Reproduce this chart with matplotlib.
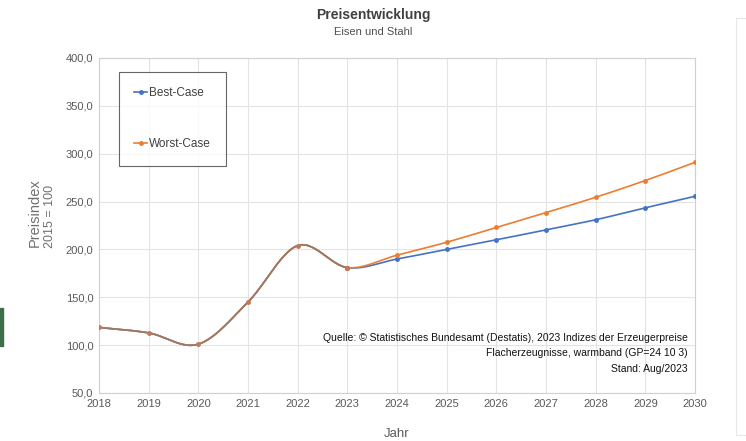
import numpy as np
import matplotlib
matplotlib.use("Agg")
import matplotlib.pyplot as plt
from matplotlib.patches import Rectangle
from matplotlib.lines import Line2D
from matplotlib.ticker import FuncFormatter, MultipleLocator

years = [2018, 2019, 2020, 2021, 2022, 2023, 2024, 2025, 2026, 2027, 2028, 2029, 2030]
best_case = [118.5, 112.8, 101.0, 145.0, 204.0, 181.0, 190.0, 200.0, 210.0, 220.5, 231.0, 243.5, 255.5]
worst_case = [118.5, 112.8, 101.0, 145.0, 204.0, 181.0, 194.0, 207.5, 223.0, 238.5, 254.5, 272.0, 291.0]
series_names = ["Best-Case", "Worst-Case"]
title = "Preisentwicklung"
subtitle = "Eisen und Stahl"
ylabel_main = "Preisindex"
ylabel_sub = "2015 = 100"
source_lines = ["Quelle: \u00a9 Statistisches Bundesamt (Destatis), 2023 Indizes der Erzeugerpreise",
                "Flacherzeugnisse, warmband (GP=24 10 3)",
                "Stand: Aug/2023"]

font = ["Liberation Sans Narrow", "Liberation Sans", "DejaVu Sans"]
plt.rcParams['font.family'] = font

def smooth(x, y, n=30):
    # Catmull-Rom (Excel-style smoothed line)
    x = np.asarray(x, float); y = np.asarray(y, float)
    px = np.concatenate([[2*x[0]-x[1]], x, [2*x[-1]-x[-2]]])
    py = np.concatenate([[2*y[0]-y[1]], y, [2*y[-1]-y[-2]]])
    xs, ys = [], []
    t = np.linspace(0, 1, n)
    for i in range(1, len(px)-2):
        p0x, p1x, p2x, p3x = px[i-1:i+3]
        p0y, p1y, p2y, p3y = py[i-1:i+3]
        c1x = p1x + (p2x-p0x)/6; c1y = p1y + (p2y-p0y)/6
        c2x = p2x - (p3x-p1x)/6; c2y = p2y - (p3y-p1y)/6
        bx = (1-t)**3*p1x + 3*(1-t)**2*t*c1x + 3*(1-t)*t**2*c2x + t**3*p2x
        by = (1-t)**3*p1y + 3*(1-t)**2*t*c1y + 3*(1-t)*t**2*c2y + t**3*p2y
        xs.append(bx); ys.append(by)
    return np.concatenate(xs), np.concatenate(ys)

blue = "#4472C4"
orange = "#ED7D31"
hist_col = "#9a7a66"

fig = plt.figure(figsize=(7.46, 4.41), dpi=100)
ax = fig.add_axes([99/746, 1-393/441, (695-99)/746, (393-58)/441])

n_hist = 6
bx, by = smooth(years, best_case)
wx, wy = smooth(years, worst_case)
ax.plot(bx, by, color=blue, lw=1.2, zorder=3)
ax.plot(wx, wy, color=orange, lw=1.2, zorder=4)
# overlapping historical part appears blended
hx = bx[bx <= years[n_hist-1]]
hy = by[bx <= years[n_hist-1]]
ax.plot(hx, hy, color=hist_col, lw=1.2, zorder=5)
ax.plot(years[n_hist-1:], best_case[n_hist-1:], 'o', color=blue, ms=2.5, zorder=6)
ax.plot(years[n_hist-1:], worst_case[n_hist-1:], 'o', color=orange, ms=2.5, zorder=6)
ax.plot(years[:n_hist], best_case[:n_hist], 'o', color="#c0785a", ms=2.5, zorder=6)

ax.set_xlim(2018, 2030)
ax.set_ylim(50, 400)
ax.xaxis.set_major_locator(MultipleLocator(1))
ax.yaxis.set_major_locator(MultipleLocator(50))
ax.yaxis.set_major_formatter(FuncFormatter(lambda v, p: f"{v:.1f}".replace(".", ",")))
ax.xaxis.set_major_formatter(FuncFormatter(lambda v, p: f"{int(v)}"))
ax.grid(True, color="#e3e3e3", lw=0.8)
ax.set_axisbelow(True)
for s in ax.spines.values():
    s.set_color("#d0d0d0")
    s.set_linewidth(0.8)
ax.tick_params(length=0, labelsize=8, colors="#595959", pad=4)

ax.set_xlabel("Jahr", fontsize=9.5, color="#595959", family=["Liberation Sans", "DejaVu Sans"])
ax.xaxis.set_label_coords(0.5, -0.105)

fig.text(35/746, 1-213/441, ylabel_main, rotation=90, ha="center", va="center", fontsize=10.5,
         color="#707070", family=["Liberation Sans", "DejaVu Sans"])
fig.text(50/746, 1-216/441, ylabel_sub, rotation=90, ha="center", va="center", fontsize=9,
         color="#707070", family=["Liberation Sans", "DejaVu Sans"])

fig.text(373/746, 1-15/441, title, ha="center", va="center", fontsize=10, fontweight="bold", color="#404040")
fig.text(373/746, 1-32/441, subtitle, ha="center", va="center", fontsize=8, color="#505050")

for i, line in enumerate(source_lines):
    fig.text(688/746, 1-(338+15.5*i)/441, line, ha="right", va="center", fontsize=7.5, color="#111111")

# legend box
lg = ax.legend([Line2D([], [], color=blue, marker='o', ms=2.5, lw=1.2),
                Line2D([], [], color=orange, marker='o', ms=2.5, lw=1.2)],
               series_names, loc="upper left", bbox_to_anchor=((119-99)/596, (393-72)/335),
               frameon=True, fancybox=False, fontsize=8.5, labelspacing=3.3,
               handlelength=1.1, handletextpad=0.15, borderpad=1.3, borderaxespad=0,
               labelcolor="#404040")
lg.get_frame().set_edgecolor("#404040")
lg.get_frame().set_linewidth(0.8)

# screenshot artifacts
fig.patches.append(Rectangle((0, 1-346/441), 3/746, 38/441, transform=fig.transFigure,
                             color="#3d6e4a", zorder=10))
fig.patches.append(Rectangle((736/746, 1-435/441), 20/746, 417/441, transform=fig.transFigure,
                             fill=False, edgecolor="#e6e6e6", lw=0.8))

fig.savefig("out.png", dpi=100)
